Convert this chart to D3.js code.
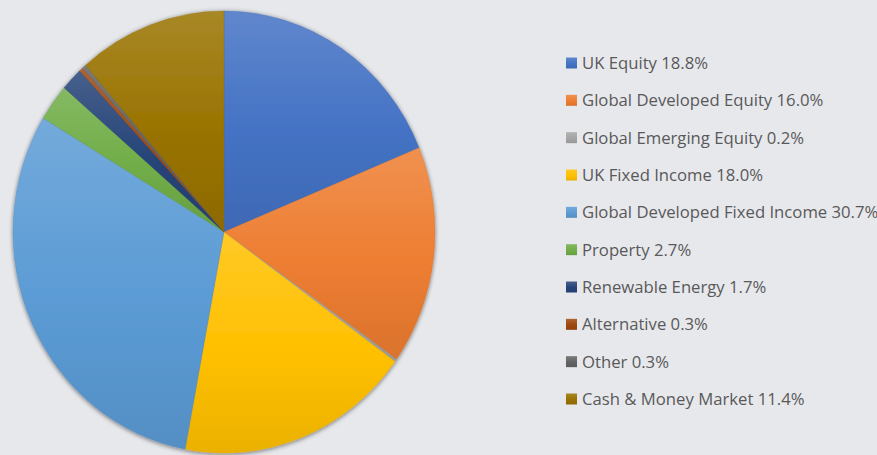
<!DOCTYPE html>
<html>
<head>
<meta charset="utf-8">
<script src="https://cdn.jsdelivr.net/npm/d3@7"></script>
<style>
  html, body { margin: 0; padding: 0; background: #e7e8ec; }
  svg { display: block; }
</style>
</head>
<body>
<svg id="chart" width="877" height="455"></svg>
<script>
// data
const categories = ["UK Equity", "Global Developed Equity", "Global Emerging Equity", "UK Fixed Income",
  "Global Developed Fixed Income", "Property", "Renewable Energy", "Alternative", "Other", "Cash & Money Market"];
const shares = [18.8, 16.0, 0.2, 18.0, 30.7, 2.7, 1.7, 0.3, 0.3, 11.4];
const baseColors = ["#4472c4", "#ed7d31", "#a5a5a5", "#ffc000", "#5b9bd5", "#70ad47", "#264478", "#9e480e", "#636363", "#997300"];

const W = 877, H = 455;
const cx = 224, cy = 232, rx = 211, ry = 221;

const svg = d3.select("#chart");
const defs = svg.append("defs");

// soft shadow round the pie
const shadow = defs.append("filter").attr("id", "shadow")
    .attr("x", "-10%").attr("y", "-10%").attr("width", "120%").attr("height", "120%");
shadow.append("feGaussianBlur").attr("in", "SourceAlpha").attr("stdDeviation", 2.5).attr("result", "b");
shadow.append("feOffset").attr("in", "b").attr("dx", 0).attr("dy", 1).attr("result", "o");
shadow.append("feComponentTransfer").attr("in", "o").attr("result", "s")
    .append("feFuncA").attr("type", "linear").attr("slope", 0.55);
const merge = shadow.append("feMerge");
merge.append("feMergeNode").attr("in", "s");
merge.append("feMergeNode").attr("in", "SourceGraphic");

// top-to-bottom gradient per slice, like the office chart style
baseColors.forEach((c, i) => {
    const g = defs.append("linearGradient").attr("id", "grad" + i)
        .attr("x1", 0).attr("y1", 0).attr("x2", 0).attr("y2", 1);
    g.append("stop").attr("offset", "0%").attr("stop-color", d3.interpolateRgb(c, "#ffffff")(0.15));
    g.append("stop").attr("offset", "55%").attr("stop-color", c);
    g.append("stop").attr("offset", "100%").attr("stop-color", d3.interpolateRgb(c, "#000000")(0.08));
});

const pie = d3.pie().sort(null).value(d => d)(shares);
const arc = d3.arc().innerRadius(0).outerRadius(ry);

const pieG = svg.append("g")
    .attr("transform", `translate(${cx},${cy}) scale(${rx / ry},1)`)
    .attr("filter", "url(#shadow)");

pieG.selectAll("path.slice")
    .data(pie)
    .join("path")
    .attr("class", "slice")
    .attr("d", arc)
    .attr("fill", (d, i) => `url(#grad${i})`)
    .attr("stroke", (d, i) => d3.color(baseColors[i]).darker(0.3))
    .attr("stroke-width", 0.3);

// legend
const legendY = d3.scalePoint().domain(categories).range([63, 399]);
const legend = svg.append("g").attr("class", "legend");
const items = legend.selectAll("g")
    .data(categories)
    .join("g")
    .attr("transform", d => `translate(566,${legendY(d)})`);

items.append("rect")
    .attr("x", 0).attr("y", -5.5)
    .attr("width", 11).attr("height", 11)
    .attr("fill", (d, i) => `url(#grad${i})`);

items.append("text")
    .attr("x", 16).attr("y", 0)
    .attr("dy", "0.35em")
    .attr("font-family", "'Open Sans', Lato, sans-serif")
    .attr("font-size", 16.7)
    .attr("fill", "#595959")
    .text((d, i) => `${d} ${shares[i].toFixed(1)}%`);
</script>
</body>
</html>
